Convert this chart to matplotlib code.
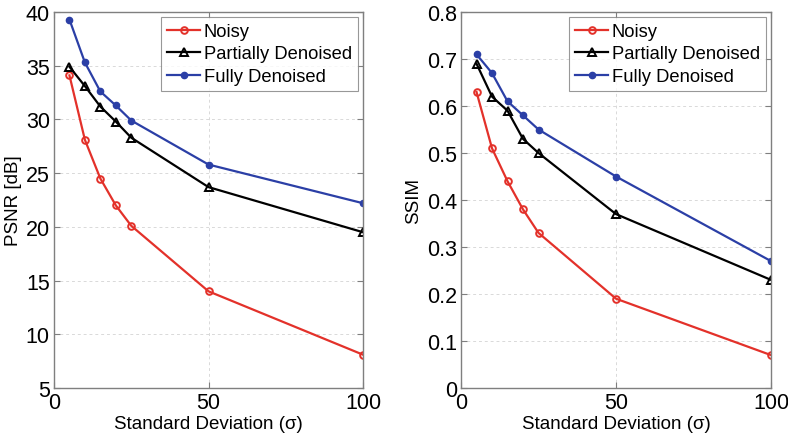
import matplotlib
matplotlib.use("Agg")
import matplotlib.pyplot as plt

sigma = [5, 10, 15, 20, 25, 50, 100]
psnr_noisy = [34.1, 28.1, 24.5, 22.0, 20.1, 14.0, 8.1]
psnr_partial = [34.9, 33.1, 31.2, 29.8, 28.3, 23.7, 19.5]
psnr_full = [39.3, 35.3, 32.6, 31.3, 29.9, 25.8, 22.2]
ssim_noisy = [0.63, 0.51, 0.44, 0.38, 0.33, 0.19, 0.07]
ssim_partial = [0.69, 0.62, 0.59, 0.53, 0.50, 0.37, 0.23]
ssim_full = [0.71, 0.67, 0.61, 0.58, 0.55, 0.45, 0.27]
labels = ["Noisy", "Partially Denoised", "Fully Denoised"]
psnr_ticks = [5, 10, 15, 20, 25, 30, 35, 40]
ssim_ticks = [0, 0.1, 0.2, 0.3, 0.4, 0.5, 0.6, 0.7, 0.8]
x_ticks = [0, 50, 100]

plt.rcParams['font.family'] = ['Liberation Sans', 'DejaVu Sans']

W, H = 788, 439
fig = plt.figure(figsize=(W/100, H/100), dpi=100)

red = '#e3312a'
blue = '#2b3fa6'
black = '#000000'

def style(ax):
    for s in ax.spines.values():
        s.set_color('#7f7f7f')
        s.set_linewidth(1.0)
    ax.tick_params(direction='in', top=True, right=True, length=4, width=0.8,
                   color='#7f7f7f', labelsize=15.5, labelcolor='black', pad=3)
    ax.grid(True, linestyle=(0, (3, 3)), color='#d9d9d9', linewidth=0.7)
    ax.set_axisbelow(True)

def plot_panel(rect, y1, y2, y3, ylabel, yticks, ylim):
    ax = fig.add_axes(rect)
    ax.plot(sigma, y1, color=red, lw=1.6, marker='o', ms=4.8, mfc='none', mec=red, mew=1.4, label=labels[0])
    ax.plot(sigma, y2, color=black, lw=1.6, marker='^', ms=5.2, mfc='none', mec=black, mew=1.4, label=labels[1])
    ax.plot(sigma, y3, color=blue, lw=1.6, marker='o', ms=4.5, mfc=blue, mec=blue, label=labels[2])
    ax.set_xlim(0, 100)
    ax.set_ylim(*ylim)
    ax.set_xticks(x_ticks)
    ax.set_yticks(yticks)
    ax.set_yticklabels([f'{t:g}' for t in yticks])
    ax.set_xlabel('Standard Deviation (σ)', fontsize=13.5, labelpad=1)
    ax.set_ylabel(ylabel, fontsize=13.5, labelpad=3)
    style(ax)
    leg = ax.legend(loc='upper right', fontsize=13.2, frameon=True, fancybox=False,
                    borderaxespad=0.25, handlelength=1.8, handletextpad=0.2,
                    borderpad=0.35, labelspacing=0.3)
    leg.get_frame().set_edgecolor('#7f7f7f')
    leg.get_frame().set_linewidth(0.8)
    return ax

plot_panel([54/W, 1-389/H, 309/W, 376/H], psnr_noisy, psnr_partial, psnr_full,
           'PSNR [dB]', psnr_ticks, (5, 40))
plot_panel([461/W, 1-389/H, 310/W, 376/H], ssim_noisy, ssim_partial, ssim_full,
           'SSIM', ssim_ticks, (0, 0.8))

fig.savefig('out.png', dpi=100)
